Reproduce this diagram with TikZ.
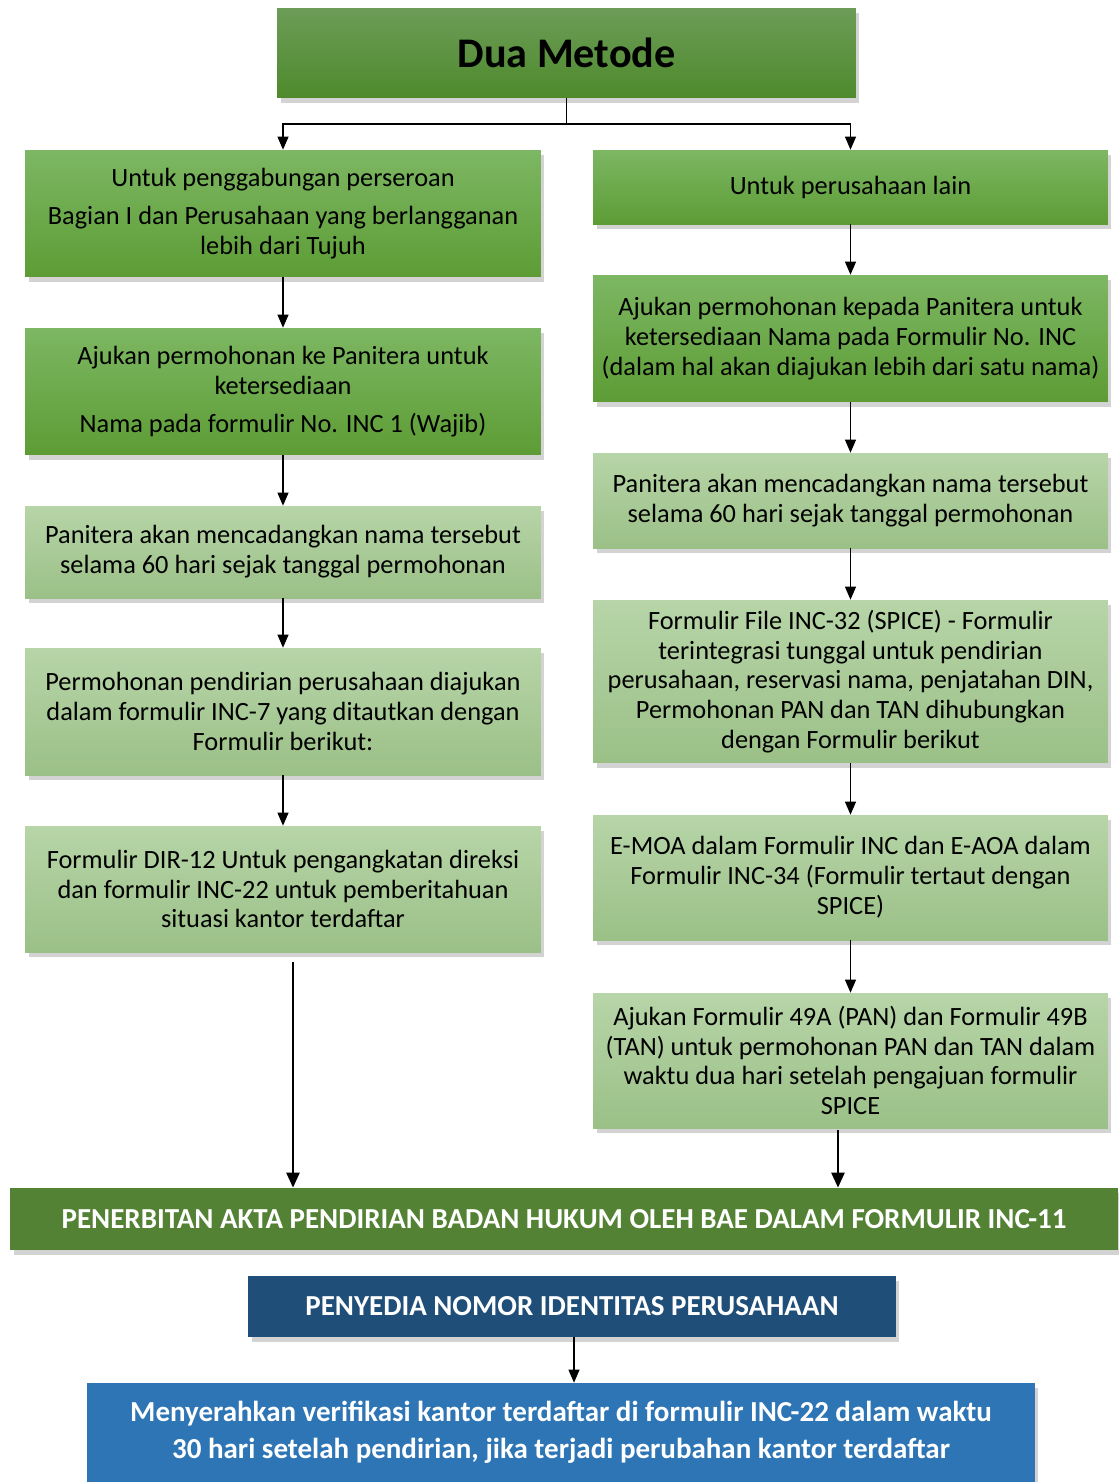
\documentclass[tikz,border=0pt]{standalone}
\usepackage{fontspec}
\setmainfont{Carlito}
\usetikzlibrary{arrows.meta,shadows}
\definecolor{titletop}{HTML}{6C9C57}
\definecolor{titlebot}{HTML}{4E8A2C}
\definecolor{midtop}{HTML}{7DB763}
\definecolor{midbot}{HTML}{5D9C35}
\definecolor{lighttop}{HTML}{B7D5A8}
\definecolor{lightbot}{HTML}{9BC087}
\definecolor{bargreen}{HTML}{548235}
\definecolor{navy}{HTML}{1F4E79}
\definecolor{midblue}{HTML}{2E75B6}
\tikzset{
  box/.style={rectangle, inner sep=2pt, align=center, font=\fontsize{15}{17}\selectfont,
    drop shadow={shadow xshift=2pt, shadow yshift=-3pt, opacity=0.35}},
  darkbox/.style={box, top color=titletop, bottom color=titlebot},
  midbox/.style={box, top color=midtop, bottom color=midbot},
  lightbox/.style={box, top color=lighttop, bottom color=lightbot},
  arr/.style={-{Triangle[width=0.22cm,length=0.26cm]}, semithick},
  bigarr/.style={-{Triangle[width=0.26cm,length=0.3cm]}, line width=1.4pt}
}
\begin{document}
\begin{tikzpicture}[x=0.02cm,y=-0.02cm]
	\useasboundingbox (0,0) rectangle (1119,1482);
	% judul
	\node[darkbox, minimum width=11.58cm, minimum height=1.8cm, font=\fontsize{24}{28}\selectfont\bfseries] (title) at (566.5,53) {Dua Metode};
	% kolom kiri
	\node[midbox, minimum width=10.32cm, minimum height=2.54cm] (l1) at (283,213.5) {Untuk penggabungan perseroan\\[5pt]Bagian I dan Perusahaan yang berlangganan\\lebih dari Tujuh};
	\node[midbox, minimum width=10.32cm, minimum height=2.54cm] (l2) at (283,391.5) {Ajukan permohonan ke Panitera untuk\\ketersediaan\\[5pt]Nama pada formulir No. INC 1 (Wajib)};
	\node[lightbox, minimum width=10.32cm, minimum height=1.84cm] (l3) at (283,552) {Panitera akan mencadangkan nama tersebut\\selama 60 hari sejak tanggal permohonan};
	\node[lightbox, minimum width=10.32cm, minimum height=2.54cm] (l4) at (283,711.5) {Permohonan pendirian perusahaan diajukan\\dalam formulir INC-7 yang ditautkan dengan\\Formulir berikut:};
	\node[lightbox, minimum width=10.32cm, minimum height=2.52cm] (l5) at (283,889) {Formulir DIR-12 Untuk pengangkatan direksi\\dan formulir INC-22 untuk pemberitahuan\\situasi kantor terdaftar};
	% kolom kanan
	\node[midbox, minimum width=10.3cm, minimum height=1.48cm] (r1) at (850.5,187) {Untuk perusahaan lain};
	\node[midbox, minimum width=10.3cm, minimum height=2.54cm] (r2) at (850.5,338.5) {Ajukan permohonan kepada Panitera untuk\\ketersediaan Nama pada Formulir No. INC\\(dalam hal akan diajukan lebih dari satu nama)};
	\node[lightbox, minimum width=10.3cm, minimum height=1.9cm] (r3) at (850.5,500.5) {Panitera akan mencadangkan nama tersebut\\selama 60 hari sejak tanggal permohonan};
	\node[lightbox, minimum width=10.3cm, minimum height=3.26cm] (r4) at (850.5,681.5) {Formulir File INC-32 (SPICE) - Formulir\\terintegrasi tunggal untuk pendirian\\perusahaan, reservasi nama, penjatahan DIN,\\Permohonan PAN dan TAN dihubungkan\\dengan Formulir berikut};
	\node[lightbox, minimum width=10.3cm, minimum height=2.5cm] (r5) at (850.5,877.5) {E-MOA dalam Formulir INC dan E-AOA dalam\\Formulir INC-34 (Formulir tertaut dengan\\SPICE)};
	\node[lightbox, minimum width=10.3cm, minimum height=2.7cm] (r6) at (850.5,1060.5) {Ajukan Formulir 49A (PAN) dan Formulir 49B\\(TAN) untuk permohonan PAN dan TAN dalam\\waktu dua hari setelah pengajuan formulir\\SPICE};
	% bagian bawah
	\node[box, fill=bargreen, text=white, minimum width=22.16cm, minimum height=1.24cm, font=\fontsize{16.5}{19}\selectfont\bfseries] (bar) at (564,1219) {PENERBITAN AKTA PENDIRIAN BADAN HUKUM OLEH BAE DALAM FORMULIR INC-11};
	\node[box, fill=navy, text=white, minimum width=12.96cm, minimum height=1.22cm, font=\fontsize{16.5}{19}\selectfont\bfseries] (cin) at (572,1306.5) {PENYEDIA NOMOR IDENTITAS PERUSAHAAN};
	\node[box, fill=midblue, text=white, minimum width=18.96cm, minimum height=1.98cm, font=\fontsize{16.5}{21}\selectfont\bfseries] (verif) at (561,1432.5) {Menyerahkan verifikasi kantor terdaftar di formulir INC-22 dalam waktu\\30 hari setelah pendirian, jika terjadi perubahan kantor terdaftar};
	% panah
	\coordinate (split) at (566.5,124);
	\draw[semithick] (title.south) -- (split);
	\draw[arr] (split) -| (l1.north);
	\draw[arr] (split) -| (r1.north);
	\draw[arr] (l1) -- (l2);
	\draw[arr] (l2) -- (l3);
	\draw[arr] (l3) -- (l4);
	\draw[arr] (l4) -- (l5);
	\draw[arr] (r1) -- (r2);
	\draw[arr] (r2) -- (r3);
	\draw[arr] (r3) -- (r4);
	\draw[arr] (r4) -- (r5);
	\draw[arr] (r5) -- (r6);
	\coordinate (lstart) at (293,962);
	\coordinate (rstart) at (838,1130);
	\coordinate (bstart) at (574,1337);
	\draw[bigarr] (lstart) -- (lstart |- bar.north);
	\draw[bigarr] (rstart) -- (rstart |- bar.north);
	\draw[arr] (bstart) -- (bstart |- verif.north);
\end{tikzpicture}
\end{document}
